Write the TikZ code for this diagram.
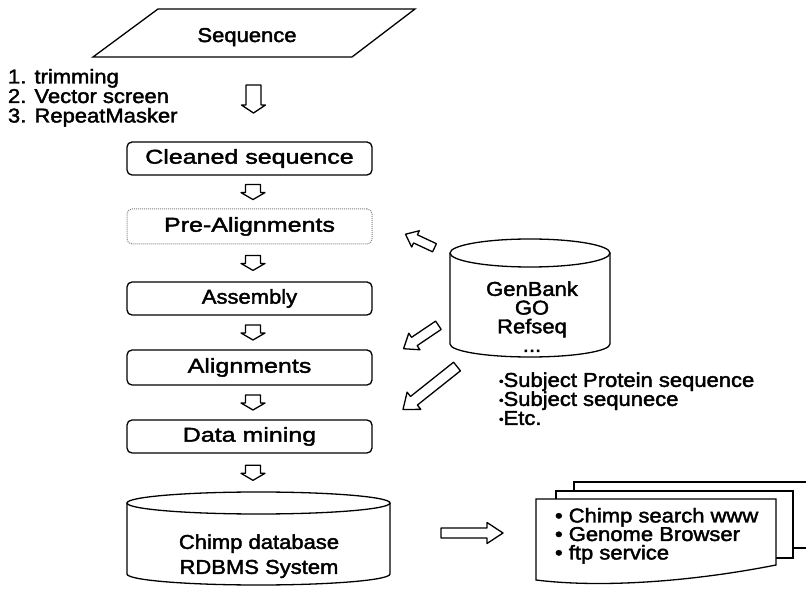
\documentclass[tikz,border=0pt]{standalone}
\usepackage{fontspec}
\setmainfont{Liberation Sans}[FakeStretch=1.1,FakeBold=2]
\newfontfamily\widefont{Liberation Sans}[FakeStretch=1.25,FakeBold=2]
\usetikzlibrary{calc,positioning}

\newcommand{\smalldot}{\raisebox{1.5pt}{\fontsize{12}{12}\selectfont\textbullet}}
% hollow block arrow: centre, angle, length, shaft, head width, head length
\newcommand{\blockarrow}[6]{%
  \draw[shift={#1}, rotate=#2, fill=white, line join=round]
    (-#3/2,-#4/2) -- ({#3/2-#6},-#4/2) -- ({#3/2-#6},-#5/2) -- (#3/2,0)
    -- ({#3/2-#6},#5/2) -- ({#3/2-#6},#4/2) -- (-#3/2,#4/2) -- cycle;}

\begin{document}
\begin{tikzpicture}[x=1pt, y=1pt, line width=1.3pt,
  font=\fontsize{20}{20}\selectfont,
  stepbox/.style={draw, rounded corners=5pt, minimum width=245pt, minimum height=33pt, inner sep=0pt},
  dotbox/.style={stepbox, draw=gray, densely dotted, line width=1pt, minimum height=35pt},
  widetext/.style={font=\widefont\fontsize{20}{20}\selectfont},
  dbline/.style={draw, fill=white},
  docpage/.style={draw, fill=white}]
\useasboundingbox (0,0) rectangle (806,592);

% input sequence
\draw (93,535) -- (158,583) -- (415,583) -- (352,535) -- cycle;
\node (seq) [anchor=base] at (247,550) {Sequence};
\node (steps) [anchor=north west, align=left, font=\fontsize{20}{19.5}\selectfont] at (4,527) {1. trimming\\2. Vector screen\\3. RepeatMasker};

% pipeline
\node[stepbox, widetext] (clean) at (249.5,433.5) {Cleaned sequence};
\node[dotbox, widetext] (preal) at (249.5,365.5) {Pre-Alignments};
\node[stepbox] (asm) at (249.5,293.5) {Assembly};
\node[stepbox, minimum height=35pt, widetext] (align) at (249.5,224.5) {Alignments};
\node[stepbox, widetext] (mine) at (249.5,155.5) {Data mining};

% chimp database
\draw[dbline] (127,89) -- (127,18) arc[start angle=180, end angle=360, x radius=131.5, y radius=11] -- (390,89);
\draw[dbline] (258.5,89) ellipse [x radius=131.5, y radius=11];
\node (chimp) [align=center, font=\fontsize{20}{25}\selectfont, anchor=north] at (259,61.6) {Chimp database\\RDBMS System};
\coordinate (chimptop) at (249.5,100);

\blockarrow{(253.5,493)}{-90}{28}{15}{24}{8}
\blockarrow{($(clean.south)!0.5!(preal.north)+(3.5,0)$)}{-90}{15}{15}{24}{7}
\blockarrow{($(preal.south)!0.5!(asm.north)+(3.5,0)$)}{-90}{15}{15}{24}{7}
\blockarrow{($(asm.south)!0.5!(align.north)+(3.5,0)$)}{-90}{15}{15}{24}{7}
\blockarrow{($(align.south)!0.5!(mine.north)+(3.5,0)$)}{-90}{15}{15}{24}{7}
\blockarrow{($(mine.south)!0.5!(chimptop)+(3.5,0)$)}{-90}{15}{15}{24}{7}

% public databases
\draw[dbline] (450,339) -- (450,248) arc[start angle=180, end angle=360, x radius=80, y radius=13] -- (610,339);
\draw[dbline] (530,339) ellipse [x radius=80, y radius=14];
\node (gen) [align=center, font=\fontsize{20}{18.7}\selectfont, anchor=north] at (532,314.6) {GenBank\\GO\\Refseq\\...};
\node (subj) [anchor=north west, align=left, font=\fontsize{20}{19}\selectfont] at (495,223.6) {\smalldot Subject Protein sequence\\\smalldot Subject sequnece\\\smalldot Etc.};

\blockarrow{(420,351)}{155}{32}{9}{18}{11}
\blockarrow{(421,255)}{214}{42}{10}{20}{13}
\blockarrow{(430,204)}{218.5}{69}{11}{22}{14}
\blockarrow{(472,59)}{0}{62}{10}{21}{16}

% web services
\draw[docpage] (806,110) -- (574,110) -- (574,44) -- (806,44);
\draw[docpage] (556,34) rectangle (793,101);
\draw[docpage] (536,93) -- (776,93) -- (776,27) .. controls (690,10) and (600,4) .. (536,12) -- cycle;
\node (web) [anchor=north west, align=left, font=\fontsize{20}{18.5}\selectfont] at (551,88) {• Chimp search www\\• Genome Browser\\• ftp service};
\end{tikzpicture}
\end{document}
